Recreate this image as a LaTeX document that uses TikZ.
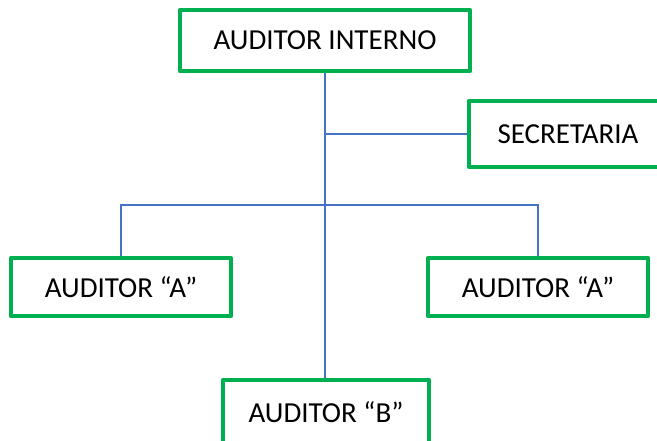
\documentclass[tikz,border=0pt]{standalone}
\usepackage{fontspec}
\setmainfont{Carlito}
\usetikzlibrary{positioning}
\definecolor{boxgreen}{HTML}{00B050}
\definecolor{linkblue}{HTML}{4472C4}

\begin{document}
\begin{tikzpicture}[
    x=1pt, y=-1pt,
    font=\fontsize{29}{32}\selectfont,
    post/.style={draw=boxgreen, line width=4.5pt, fill=white, inner sep=2pt,
                 line join=round},
    link/.style={draw=linkblue, line width=1.4pt},
  ]
  \clip (0,0) rectangle (657,440);

  % boxes of the chart
  \node[post, minimum width=290pt, minimum height=61pt] (intern) at (325,40.5) {AUDITOR INTERNO};
  \node[post, minimum width=198pt, minimum height=66pt] (secr) at (568,134) {SECRETARIA};
  \node[post, minimum width=220pt, minimum height=58pt] (audA1) at (121,287) {AUDITOR “A”};
  \node[post, minimum width=220pt, minimum height=58pt] (audA2) at (538,287) {AUDITOR “A”};
  \node[post, minimum width=206pt, minimum height=64pt] (audB) at (326,412) {AUDITOR “B”};

  % connectors
  \coordinate (fork) at (325,205);
  \draw[link] (intern.south) -- (intern.south |- audB.north);
  \draw[link] (intern.south |- secr.west) -- (secr.west);
  \draw[link] (audA1.north) |- (fork) -| (audA2.north);
\end{tikzpicture}
\end{document}
